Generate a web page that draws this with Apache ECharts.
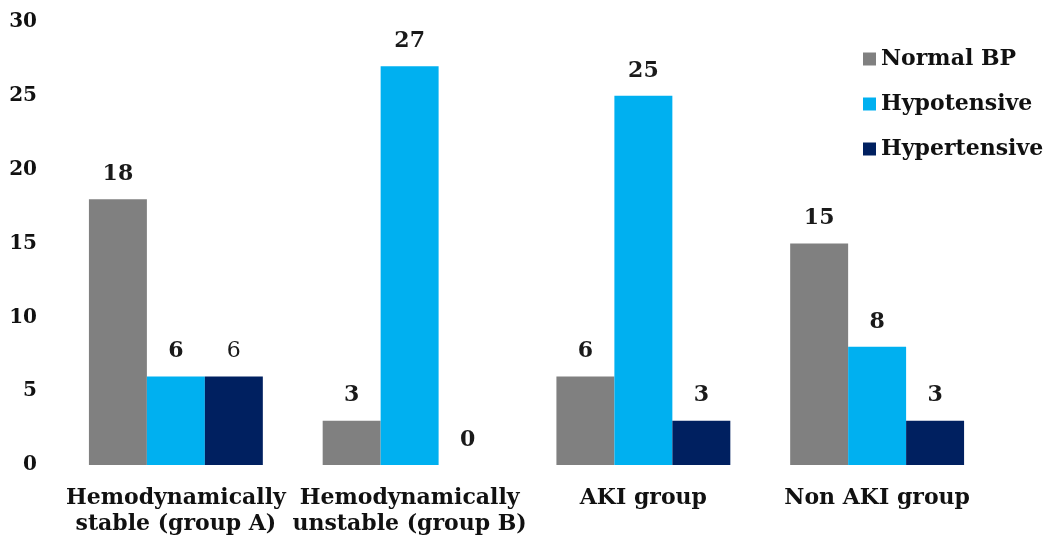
<!DOCTYPE html>
<html>
<head>
<meta charset="utf-8">
<script src="https://cdn.jsdelivr.net/npm/echarts@6/dist/echarts.min.js"></script>
<style>
  html, body { margin: 0; padding: 0; background: #fff; }
  #chart { width: 1050px; height: 541px; }
</style>
</head>
<body>
<div id="chart"></div>
<script>
// Blood pressure status per patient group
const categories = [
  'Hemodynamically\nstable (group A)',
  'Hemodynamically\nunstable (group B)',
  'AKI group',
  'Non AKI group'
];
const seriesNames = ['Normal BP', 'Hypotensive', 'Hypertensive'];
const normalBP = [18, 3, 6, 15];
const hypotensive = [6, 27, 25, 8];
const hypertensive = [6, 0, 3, 3];
const yTicks = [0, 5, 10, 15, 20, 25, 30];

const FONT = '"DejaVu Serif", "Liberation Serif", serif';
const colors = ['#808080', '#00B0F0', '#002060'];

const labelStyle = {
  show: true,
  position: 'top',
  distance: 14,
  fontFamily: FONT,
  fontWeight: 'bold',
  fontSize: 22,
  color: '#1a1a1a'
};

function buildData(values, plainIdx) {
  return values.map((v, i) => {
    if (i === plainIdx) {
      return { value: v, label: { fontWeight: 'normal' } };
    }
    return v;
  });
}

const chart = echarts.init(document.getElementById('chart'));
chart.setOption({
  animation: false,
  color: colors,
  grid: { left: 59, right: 56, top: 22, bottom: 76 },
  legend: {
    orient: 'vertical',
    left: 858,
    top: 43,
    itemWidth: 13,
    itemHeight: 13,
    itemGap: 23,
    icon: 'rect',
    textStyle: { fontFamily: FONT, fontWeight: 'bold', fontSize: 22, color: '#111' },
    data: seriesNames
  },
  xAxis: {
    type: 'category',
    data: categories,
    axisLine: { show: false },
    axisTick: { show: false },
    axisLabel: {
      interval: 0,
      margin: 20,
      fontFamily: FONT,
      fontWeight: 'bold',
      fontSize: 22,
      lineHeight: 26,
      color: '#111'
    }
  },
  yAxis: {
    type: 'value',
    min: yTicks[0],
    max: yTicks[yTicks.length - 1],
    interval: yTicks[1] - yTicks[0],
    splitLine: { show: false },
    axisLine: { show: false },
    axisTick: { show: false },
    axisLabel: {
      margin: 22,
      fontFamily: FONT,
      fontWeight: 'bold',
      fontSize: 20,
      color: '#111'
    }
  },
  series: [
    { name: seriesNames[0], type: 'bar', data: buildData(normalBP, -1), barGap: '0%', barCategoryGap: '25.6%', label: labelStyle },
    { name: seriesNames[1], type: 'bar', data: buildData(hypotensive, -1), barGap: '0%', barCategoryGap: '25.6%', label: labelStyle },
    { name: seriesNames[2], type: 'bar', data: buildData(hypertensive, 0), barGap: '0%', barCategoryGap: '25.6%', label: labelStyle }
  ]
});
</script>
</body>
</html>
